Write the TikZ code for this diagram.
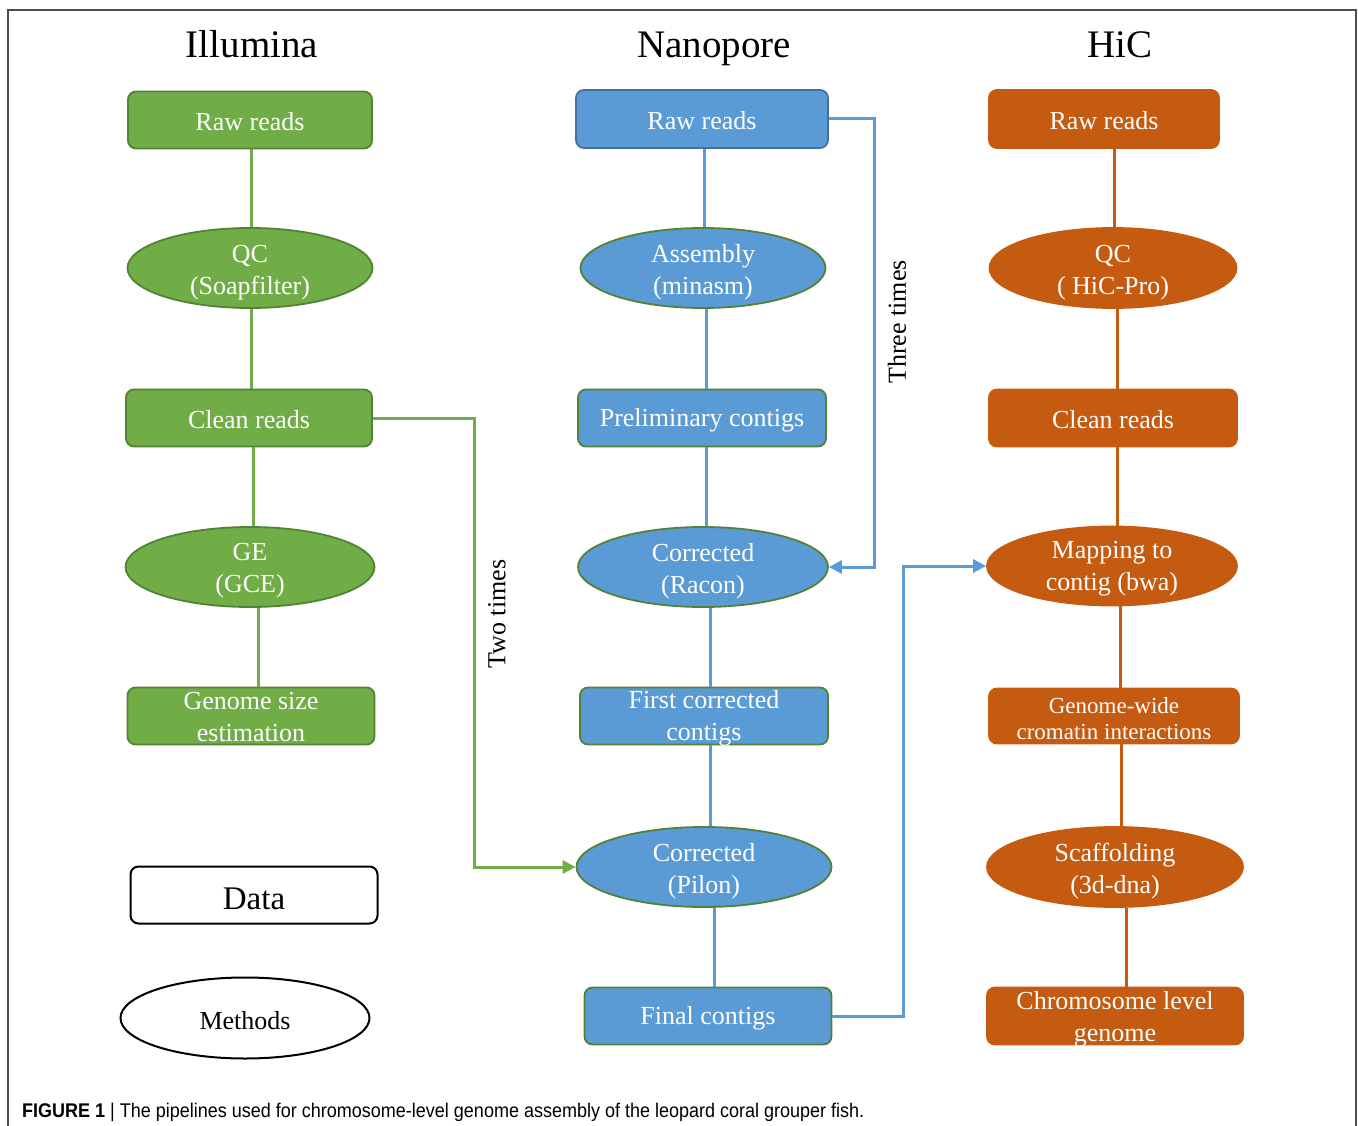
\documentclass[tikz,border=0pt]{standalone}
\usepackage{fontspec}
\usepackage{graphicx}
\setmainfont{Liberation Serif}
\newfontfamily\capfont{Liberation Sans}
\usetikzlibrary{shapes.geometric,arrows.meta}
\definecolor{ggreen}{HTML}{70AD47}
\definecolor{ggreenD}{HTML}{548235}
\definecolor{bblue}{HTML}{5B9BD5}
\definecolor{bblueD}{HTML}{41719C}
\definecolor{oorange}{HTML}{C55A11}
\definecolor{frameg}{HTML}{4D4D4D}
\tikzset{
  base/.style={inner sep=0pt},
  boxbase/.style={base, rectangle, rounded corners=8pt, minimum width=246pt, minimum height=57pt, line width=1.8pt},
  ellbase/.style={base, ellipse, minimum width=246pt, minimum height=80pt, line width=1.8pt},
  gbox/.style={boxbase, fill=ggreen, draw=ggreenD},
  gell/.style={ellbase, fill=ggreen, draw=ggreenD},
  bbox/.style={boxbase, fill=bblue, draw=ggreenD},
  bell/.style={ellbase, fill=bblue, draw=ggreenD},
  obox/.style={boxbase, fill=oorange, draw=oorange},
  oell/.style={ellbase, fill=oorange, draw=oorange},
  wt/.style={inner sep=0pt, align=center, text=white, font=\fontsize{26}{32}\selectfont},
  bt/.style={inner sep=0pt, align=center, text=black, font=\fontsize{26}{32}\selectfont},
  title/.style={inner sep=0pt, anchor=base, font=\fontsize{39}{44}\selectfont},
  gline/.style={draw=ggreen, line width=3pt},
  bline/.style={draw=bblue, line width=3pt},
  oline/.style={draw=oorange, line width=3pt},
  tip/.style={-{Triangle[length=13pt,width=13pt]}},
  vlabel/.style={inner sep=0pt, rotate=90, font=\fontsize{26}{30}\selectfont}
}
\begin{document}
\begin{tikzpicture}[x=1pt,y=-1pt]
\useasboundingbox (0,0) rectangle (1358,1126);
\fill[white] (0,0) rectangle (1358,1126);
% frame
\draw[frameg, line width=1.5pt] (8,1126) -- (8,10) -- (1356,10) -- (1356,1126);

% titles
\node[title] (tI) at (252,58) {Illumina};
\node[title] (tN) at (714,58) {Nanopore};
\node[title] (tH) at (1120,58) {HiC};

% Illumina
\node[gbox, minimum width=244pt] (g1) at (250,120) {};
\node[gell, minimum width=245pt] (g2) at (250,268) {};
\node[gbox] (g3) at (249,418) {};
\node[gell, minimum width=249pt] (g4) at (250,567) {};
\node[gbox, minimum width=247pt] (g5) at (251,716) {};
\node[wt] (g1t) at ([yshift=-2pt]g1.center) {Raw reads};
\node[wt] (g2t) at ([yshift=-5pt]g2.center) {QC\\(Soapfilter)};
\node[wt] (g3t) at ([yshift=-2pt]g3.center) {Clean reads};
\node[wt] (g4t) at ([yshift=-4pt]g4.center) {GE\\(GCE)};
\node[wt] (g5t) at ([yshift=-1pt]g5.center) {Genome size\\estimation};

% legend
\node[boxbase, fill=white, draw=black, minimum width=247pt, line width=2pt] (data) at (254,895) {};
\node[ellbase, fill=white, draw=black, minimum width=249pt, minimum height=81pt, line width=2pt] (meth) at (245,1018) {};
\node[bt, font=\fontsize{33}{36}\selectfont] (datat) at ([yshift=-4pt]data.center) {Data};
\node[bt] (metht) at ([yshift=-3pt]meth.center) {Methods};

% Nanopore
\node[bbox, draw=bblueD, minimum width=252pt, minimum height=58pt] (b1) at (702,119) {};
\node[bell, minimum width=245pt] (b2) at (703,268) {};
\node[bbox, minimum width=248pt] (b3) at (702,418) {};
\node[bell, minimum width=250pt] (b4) at (703,567) {};
\node[bbox, minimum width=248pt] (b5) at (704,716) {};
\node[bell, minimum width=255pt] (b6) at (704,867) {};
\node[bbox, minimum width=247pt] (b7) at (708,1016) {};
\node[wt] (b1t) at ([yshift=-2pt]b1.center) {Raw reads};
\node[wt] (b2t) at ([yshift=-4pt]b2.center) {Assembly\\(minasm)};
\node[wt] (b3t) at ([yshift=-2pt]b3.center) {Preliminary contigs};
\node[wt] (b4t) at ([yshift=-4pt]b4.center) {Corrected\\(Racon)};
\node[wt] (b5t) at ([yshift=-2pt]b5.center) {First corrected\\contigs};
\node[wt] (b6t) at ([yshift=-4pt]b6.center) {Corrected\\(Pilon)};
\node[wt] (b7t) at ([yshift=-2pt]b7.center) {Final contigs};

% HiC
\node[obox, minimum width=230pt, minimum height=58pt] (o1) at (1104,119) {};
\node[oell, minimum width=247pt] (o2) at (1113,268) {};
\node[obox, minimum width=248pt] (o3) at (1113,418) {};
\node[oell, minimum width=250pt, minimum height=79pt] (o4) at (1112,566) {};
\node[obox, minimum width=250pt, minimum height=55pt] (o5) at (1114,716) {};
\node[oell, minimum width=256pt] (o6) at (1115,867) {};
\node[obox, minimum width=256pt] (o7) at (1115,1016) {};
\node[wt] (o1t) at ([yshift=-2pt]o1.center) {Raw reads};
\node[wt] (o2t) at ([yshift=-5pt]o2.center) {QC\\( HiC-Pro)};
\node[wt] (o3t) at ([yshift=-2pt]o3.center) {Clean reads};
\node[wt] (o4t) at ([yshift=-3pt]o4.center) {Mapping to\\contig (bwa)};
\node[wt, font=\fontsize{23}{26}\selectfont] (o5t) at ([yshift=-3pt]o5.center) {Genome-wide\\cromatin interactions};
\node[wt] (o6t) at ([yshift=-4pt]o6.center) {Scaffolding\\(3d-dna)};
\node[wt] (o7t) at ([yshift=-3pt]o7.center) {Chromosome level\\genome};

% vertical connectors (x of each line as in the figure)
\foreach \a/\b/\x in {g1/g2/251,g2/g3/251,g3/g4/253,g4/g5/258}
  {\coordinate (cx) at (\x,0); \draw[gline] (\a.south -| cx) -- (\b.north -| cx);}
\foreach \a/\b/\x in {b1/b2/704,b2/b3/706,b3/b4/706,b4/b5/710,b5/b6/710,b6/b7/714}
  {\coordinate (cx) at (\x,0); \draw[bline] (\a.south -| cx) -- (\b.north -| cx);}
\foreach \a/\b/\x in {o1/o2/1114,o2/o3/1117,o3/o4/1117,o4/o5/1120,o5/o6/1121,o6/o7/1126}
  {\coordinate (cx) at (\x,0); \draw[oline] (\a.south -| cx) -- (\b.north -| cx);}

% loops
\coordinate (twoX) at (474,0);
\coordinate (threeX) at (874,0);
\coordinate (finX) at (903,0);
\draw[gline, tip] (g3.east) -- (g3.east -| twoX) -- (twoX |- b6.west) -- (b6.west);
\draw[bline, tip] (b1.east) -- (b1.east -| threeX) -- (threeX |- b4.east) -- (b4.east);
\draw[bline, tip] (b7.east) -- (b7.east -| finX) -- (finX |- o4.west) -- (o4.west);

\node[vlabel] (lab2) at (497,614) {Two times};
\node[vlabel] (lab3) at (897,322) {Three times};

% caption
\node[anchor=base west, inner sep=0pt, font=\capfont\fontsize{18}{20}\selectfont] (cap) at (22,1117) {\scalebox{1}[1.1]{\textbf{FIGURE 1} \textbar{} The pipelines used for chromosome-level genome assembly of the leopard coral grouper fish.}};
\end{tikzpicture}
\end{document}
